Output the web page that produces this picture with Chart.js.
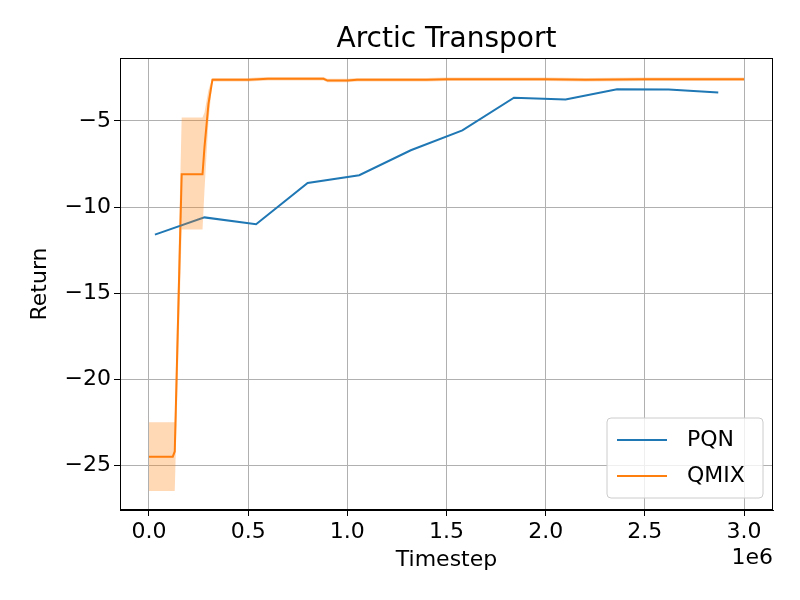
<!DOCTYPE html>
<html>
<head>
<meta charset="utf-8">
<script src="https://cdn.jsdelivr.net/npm/chart.js@4.4.0/dist/chart.umd.min.js"></script>
<style>
  body { margin: 0; background: #fff; }
  #wrap { width: 800px; height: 600px; }
</style>
</head>
<body>
<div id="wrap"><canvas id="myChart" width="800" height="600"></canvas></div>
<script>
// data (x in units of 1e6)
const pqnX = [0.03, 0.28, 0.54, 0.80, 1.06, 1.32, 1.58, 1.84, 2.10, 2.36, 2.62, 2.87];
const pqnY = [-11.6, -10.6, -11.0, -8.6, -8.15, -6.7, -5.55, -3.65, -3.75, -3.15, -3.17, -3.35];

const qmixX = [0, 0.12, 0.13, 0.165, 0.27, 0.28, 0.30, 0.32, 0.5, 0.6, 0.7, 0.88, 0.9, 1.0, 1.05, 1.2, 1.4, 1.5, 2.0, 2.2, 2.5, 2.7, 2.9, 3.0];
const qmixY = [-24.5, -24.5, -24.2, -8.1, -8.1, -6.5, -4.0, -2.6, -2.6, -2.55, -2.55, -2.55, -2.65, -2.65, -2.6, -2.6, -2.6, -2.58, -2.58, -2.6, -2.57, -2.58, -2.57, -2.57];
const qmixHi = [-22.5, -22.5, -22.5, -4.8, -4.8, -4.5, -3.2, -2.5, -2.5, -2.45, -2.45, -2.45, -2.55, -2.55, -2.5, -2.5, -2.5, -2.48, -2.48, -2.5, -2.47, -2.48, -2.47, -2.47];
const qmixLo = [-26.5, -26.5, -26.5, -11.3, -11.3, -9.0, -5.0, -2.7, -2.7, -2.65, -2.65, -2.65, -2.75, -2.75, -2.7, -2.7, -2.7, -2.68, -2.68, -2.7, -2.67, -2.68, -2.67, -2.67];

const xTicks = [0, 0.5, 1.0, 1.5, 2.0, 2.5, 3.0];
const yTicks = [-25, -20, -15, -10, -5];

const pts = (xs, ys) => xs.map((x, i) => ({ x: x, y: ys[i] }));
const FONT = "'DejaVu Sans', sans-serif";
const blue = '#1f77b4', orange = '#ff7f0e';

// title, axis titles, frame, 1e6 offset and legend box, drawn like matplotlib
const extras = {
  id: 'extras',
  afterDraw(chart) {
    const c = chart.ctx, a = chart.chartArea;
    c.save();
    c.strokeStyle = '#000';
    c.lineWidth = 1;
    c.strokeRect(a.left + 0.5, a.top + 0.5, a.right - a.left - 1, a.bottom - a.top - 1);
    c.fillStyle = '#000';
    c.font = '28px ' + FONT;
    c.textAlign = 'center';
    c.textBaseline = 'middle';
    c.fillText('Arctic Transport', (a.left + a.right) / 2, 40);
    c.font = '22px ' + FONT;
    c.fillText('Timestep', (a.left + a.right) / 2, 560);
    c.save();
    c.translate(40, (a.top + a.bottom) / 2);
    c.rotate(-Math.PI / 2);
    c.fillText('Return', 0, 0);
    c.restore();
    c.textAlign = 'right';
    c.fillText('1e6', a.right, 558);
    // legend
    const w = 156, h = 80, x = a.right - w - 10, y = a.bottom - h - 12;
    c.fillStyle = 'rgba(255,255,255,0.8)';
    c.strokeStyle = '#cccccc';
    c.beginPath();
    c.roundRect(x, y, w, h, 4);
    c.fill();
    c.stroke();
    [['PQN', blue], ['QMIX', orange]].forEach((it, i) => {
      const ly = y + 22 + i * 36;
      c.strokeStyle = it[1];
      c.lineWidth = 2;
      c.beginPath();
      c.moveTo(x + 10, ly);
      c.lineTo(x + 60, ly);
      c.stroke();
      c.fillStyle = '#000';
      c.font = '22px ' + FONT;
      c.textAlign = 'left';
      c.fillText(it[0], x + 80, ly);
    });
    c.restore();
  }
};

const ctx = document.getElementById('myChart').getContext('2d');
const myChart = new Chart(ctx, {
  type: 'line',
  data: {
    datasets: [
      { label: 'lo', data: pts(qmixX, qmixLo), borderWidth: 0, pointRadius: 0, fill: false },
      { label: 'hi', data: pts(qmixX, qmixHi), borderWidth: 0, pointRadius: 0, fill: '-1', backgroundColor: 'rgba(255,127,14,0.3)' },
      { label: 'PQN', data: pts(pqnX, pqnY), borderColor: blue, borderWidth: 2, pointRadius: 0, fill: false },
      { label: 'QMIX', data: pts(qmixX, qmixY), borderColor: orange, borderWidth: 2, pointRadius: 0, fill: false }
    ]
  },
  options: {
    responsive: false,
    animation: false,
    layout: { padding: { top: 58, right: 27, left: 0, bottom: 0 } },
    plugins: { legend: { display: false }, tooltip: { enabled: false } },
    scales: {
      x: {
        type: 'linear',
        min: -0.146, max: 3.146,
        afterBuildTicks: s => { s.ticks = xTicks.map(v => ({ value: v })); },
        afterFit: s => { s.height = 90; },
        ticks: { color: '#000', font: { family: FONT, size: 22 }, maxRotation: 0, callback: v => v.toFixed(1) },
        grid: { color: '#b0b0b0', tickColor: '#000', tickLength: 6 },
        border: { color: '#000' }
      },
      y: {
        min: -27.6, max: -1.34,
        afterBuildTicks: s => { s.ticks = yTicks.map(v => ({ value: v })); },
        afterFit: s => { s.width = 120; },
        ticks: { color: '#000', font: { family: FONT, size: 22 }, callback: v => '\u2212' + Math.abs(v) },
        grid: { color: '#b0b0b0', tickColor: '#000', tickLength: 6 },
        border: { color: '#000' }
      }
    }
  },
  plugins: [extras]
});
</script>
</body>
</html>
